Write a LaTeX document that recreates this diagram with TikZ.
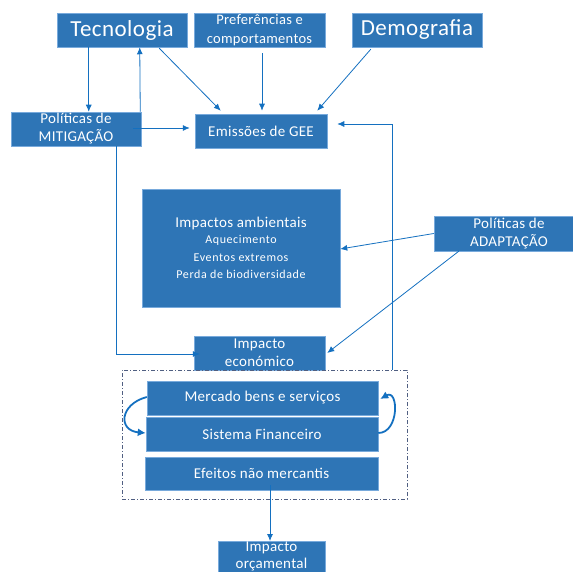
\documentclass[tikz,border=0pt]{standalone}
\usepackage{fontspec}
\setmainfont{Carlito}[LetterSpace=2]
\newfontfamily\subfont{Carlito}[LetterSpace=5]
\usetikzlibrary{calc,arrows.meta}
\definecolor{boxblue}{RGB}{46,117,182}
\definecolor{edgeblue}{RGB}{120,170,220}
\definecolor{arrblue}{RGB}{20,112,192}
\definecolor{grpgray}{RGB}{80,95,130}
\tikzset{
  box/.style={fill=boxblue, draw=edgeblue, line width=0.5pt, text=white, align=center, inner sep=0pt, font=\fontsize{15}{18}\selectfont},
  arr/.style={draw=arrblue, line width=0.8pt, -{Latex[length=7pt,width=6pt]}},
  curv/.style={draw=arrblue, line width=1.8pt, -{Latex[length=8pt,width=8pt]}},
  grp/.style={draw=grpgray, line width=0.6pt, dash pattern=on 4pt off 2pt on 1pt off 2pt, inner sep=0pt}
}
\newcommand{\subline}[1]{{\subfont\fontsize{12}{16}\selectfont #1}}
\begin{document}
\begin{tikzpicture}[x=1pt,y=-1pt]
\useasboundingbox (0,0) rectangle (573,572);
% top row
\node[box, minimum width=130pt, minimum height=34pt, font=\fontsize{23}{26}\selectfont] (tec) at (122,30) {Tecnologia};
\node[box, minimum width=131pt, minimum height=34pt, font=\fontsize{14.5}{18.5}\selectfont] (pref) at (259.5,30) {Preferências e\\comportamentos};
\node[box, minimum width=130pt, minimum height=34pt, font=\fontsize{23}{26}\selectfont] (demo) at (417,30) {Demografia};
% second row
\node[box, minimum width=130pt, minimum height=34pt] (mit) at (76,129) {Políticas de\\MITIGAÇÃO};
\node[box, minimum width=132pt, minimum height=34pt] (emi) at (261,131) {Emissões de GEE};
% middle
\node[box, minimum width=198pt, minimum height=118pt] (amb) at (241,248) {Impactos ambientais\\[-1.5pt]\subline{Aquecimento}\\[-0.5pt]\subline{Eventos extremos}\\[-0.5pt]\subline{Perda de biodiversidade}};
\node[box, minimum width=150pt, minimum height=35pt] (adap) at (509,233.5) {Políticas de\\ADAPTAÇÃO};
\node[box, minimum width=131pt, minimum height=34pt] (eco) at (259.5,353) {Impacto\\económico};
% group
\node[grp, minimum width=285pt, minimum height=129pt] (grpbox) at (264.5,434.5) {};
\node[box, minimum width=231pt, minimum height=34pt] (merc) at (262.5,398) {Mercado bens e serviços};
\node[box, minimum width=232pt, minimum height=34pt] (sis) at (262,434) {Sistema Financeiro};
\node[box, minimum width=233pt, minimum height=33pt] (efe) at (261.5,473.5) {Efeitos não mercantis};
% bottom
\node[box, minimum width=107pt, minimum height=40pt, anchor=north] (orc) at (271.5,541) {};
\node[text=white, align=center, font=\fontsize{15}{17}\selectfont, anchor=center] (orct) at (271.5,556.5) {Impacto\\orçamental};
% connectors
\draw[arr] ($(tec.south west)+(32,0)$) -- ($(mit.north west)+(78,0)$);
\draw[arr] ($(mit.north east)+(-1,0)$) -- ($(tec.south west)+(83,0)$);
\draw[arr] ($(tec.south east)+(-28,1)$) -- ($(emi.north west)+(26,-3)$);
\draw[arr] ($(pref.south)+(2.5,6)$) -- ($(emi.north)+(1,-3)$);
\draw[arr] ($(demo.south west)+(19,2)$) -- ($(emi.north east)+(-10,-3)$);
\draw[arr] ($(mit.east)+(-8,-1)$) -- ($(emi.west)+(-5,-3)$);
\coordinate (fb) at ($(grpbox.north west)+(271,0)$);
\draw[arr] (fb) |- ($(emi.east)+(10,-7)$);
\draw[arr] ($(mit.south west)+(106,0)$) |- ($(eco.west)+(6,1)$);
\draw[arr] (adap.west) -- ($(amb.east)+(0,1)$);
\draw[arr] ($(adap.south west)+(25,0)$) -- ($(eco.east)+(2,0)$);
\draw[arr] ($(efe.south)+(8.5,-5)$) -- (orc.north -| {$(efe.south)+(8.5,0)$});
\draw[curv] ($(merc.west)+(0,-1)$) to[out=195, in=175, looseness=2] ($(sis.west)+(0,-1)$);
\draw[curv] ($(sis.east)+(0,-1)$) to[out=0, in=30, looseness=1.6] ($(merc.east)+(2,1)$);
\end{tikzpicture}
\end{document}
